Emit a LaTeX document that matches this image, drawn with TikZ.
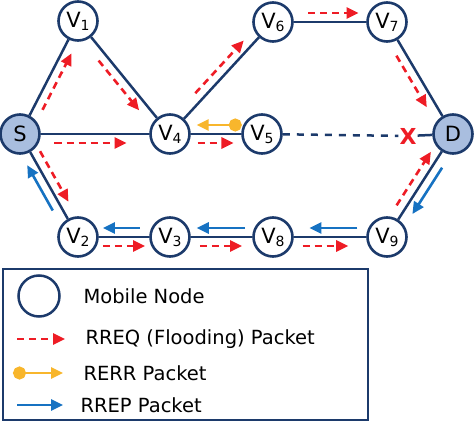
\documentclass[tikz,border=0pt]{standalone}
\usepackage{fontspec}
\setmainfont{DejaVu Sans}
\usetikzlibrary{arrows.meta,calc}

\definecolor{navy}{HTML}{1C3A6B}
\definecolor{nodeblue}{HTML}{A9BEDF}
\definecolor{rreqred}{HTML}{EE1C25}
\definecolor{rrepblue}{HTML}{1672C2}
\definecolor{rerryellow}{HTML}{F8B62C}

% node label V with its index
\newcommand{\vlabel}[1]{V\raisebox{-3pt}{\fontsize{14}{14}\selectfont #1}}
% packet arrow running beside the link from #2 to #3
\newcommand{\pkt}[6]{\draw[#1] ($(#2)!#4!(#3)!9pt!#6:(#3)$) -- ($(#2)!#5!(#3)!9pt!#6:(#3)$);}

\begin{document}
\begin{tikzpicture}[
                    x=1pt,
                    y=-1pt,
                    mobile/.style={circle, draw=navy, line width=2.6pt, fill=white,
                        minimum size=39pt, inner sep=0pt, font=\fontsize{21}{22}\selectfont},
                    endnode/.style={mobile, fill=nodeblue},
                    link/.style={draw=navy, line width=2.5pt},
                    tip/.style={-{Triangle[length=12pt,width=11pt]}},
                    rreq/.style={tip, draw=rreqred, line width=2.6pt, dash pattern=on 7pt off 5pt},
                    rrep/.style={tip, draw=rrepblue, line width=2.6pt},
                    rerr/.style={draw=rerryellow, line width=2.6pt,
                        {Circle[length=13pt]}-{Triangle[length=12pt,width=11pt]}},
                    lgtext/.style={anchor=west, font=\fontsize{19.5}{21}\selectfont}
                ]
                \useasboundingbox (0,0) rectangle (474,422);

                \node[endnode] (S) at (20,134) {S} ;
                \node[mobile] (V1) at (78,21) {\vlabel{1}} ;
                \node[mobile] (V4) at (170,134) {\vlabel{4}} ;
                \node[mobile] (V5) at (262,134) {\vlabel{5}} ;
                \node[mobile] (V6) at (273,22) {\vlabel{6}} ;
                \node[mobile] (V7) at (387,22) {\vlabel{7}} ;
                \node[endnode] (D) at (453,134) {D} ;
                \node[mobile] (V2) at (78,237) {\vlabel{2}} ;
                \node[mobile] (V3) at (170,237) {\vlabel{3}} ;
                \node[mobile] (V8) at (273,237) {\vlabel{8}} ;
                \node[mobile] (V9) at (387,237) {\vlabel{9}} ;
                \node[text=rreqred, inner sep=1pt, font=\fontsize{22}{22}\bfseries] (X) at (408,136) {X} ;

                \path[link]
                (S) edge (V1)
                (V1) edge (V4)
                (S) edge (V4)
                (S) edge (V2)
                (V4) edge (V6)
                (V4) edge (V5)
                (V6) edge (V7)
                (V7) edge (D)
                (X) edge (D)
                (D) edge (V9)
                (V2) edge (V3)
                (V3) edge (V8)
                (V8) edge (V9)
                ;
                \path[link, dash pattern=on 7pt off 7pt] (V5) edge (X) ;

                % RREQ flooding
                \pkt{rreq}{S}{V1}{.25}{.75}{-90}
                \pkt{rreq}{V1}{V4}{.3}{.74}{-90}
                \pkt{rreq}{S}{V4}{.23}{.71}{-90}
                \pkt{rreq}{S}{V2}{.21}{.7}{90}
                \pkt{rreq}{V4}{V6}{.31}{.78}{90}
                \pkt{rreq}{V4}{V5}{.3}{.69}{-90}
                \pkt{rreq}{V6}{V7}{.31}{.75}{90}
                \pkt{rreq}{V7}{D}{.26}{.72}{-90}
                \pkt{rreq}{V9}{D}{.26}{.78}{90}
                \pkt{rreq}{V2}{V3}{.27}{.73}{-90}
                \pkt{rreq}{V3}{V8}{.29}{.7}{-90}
                \pkt{rreq}{V8}{V9}{.26}{.66}{-90}

                % RREP back to the source
                \pkt{rrep}{D}{V9}{.28}{.73}{90}
                \pkt{rrep}{V9}{V8}{.26}{.68}{-90}
                \pkt{rrep}{V8}{V3}{.27}{.74}{-90}
                \pkt{rrep}{V3}{V2}{.33}{.73}{-90}
                \pkt{rrep}{V2}{S}{.3}{.74}{90}

                % RERR
                \pkt{rerr}{V5}{V4}{.22}{.71}{-90}

                % legend
                \draw[navy, line width=2.5pt] (3,269) rectangle (368,420) ;
                \node[circle, draw=navy, line width=2.5pt, minimum size=41pt, inner sep=0pt] (lgnode) at (39,296) {} ;
                \node[lgtext] (lgmobile) at (80,296) {Mobile Node} ;
                \node[lgtext] (lgrreq) at (82,339) {RREQ (Flooding) Packet} ;
                \node[lgtext] (lgrerr) at (80,373) {RERR Packet} ;
                \node[lgtext] (lgrrep) at (77,405) {RREP Packet} ;
                \coordinate (qa) at (17,339) ;
                \coordinate (ea) at (13,373) ;
                \coordinate (pa) at (17,405) ;
                \draw[rreq] (qa) -- (lgrreq.west -| 65,0) ;
                \draw[rerr] (ea) -- (lgrerr.west -| 63,0) ;
                \draw[rrep] (pa) -- (lgrrep.west -| 63,0) ;
            \end{tikzpicture}
\end{document}
